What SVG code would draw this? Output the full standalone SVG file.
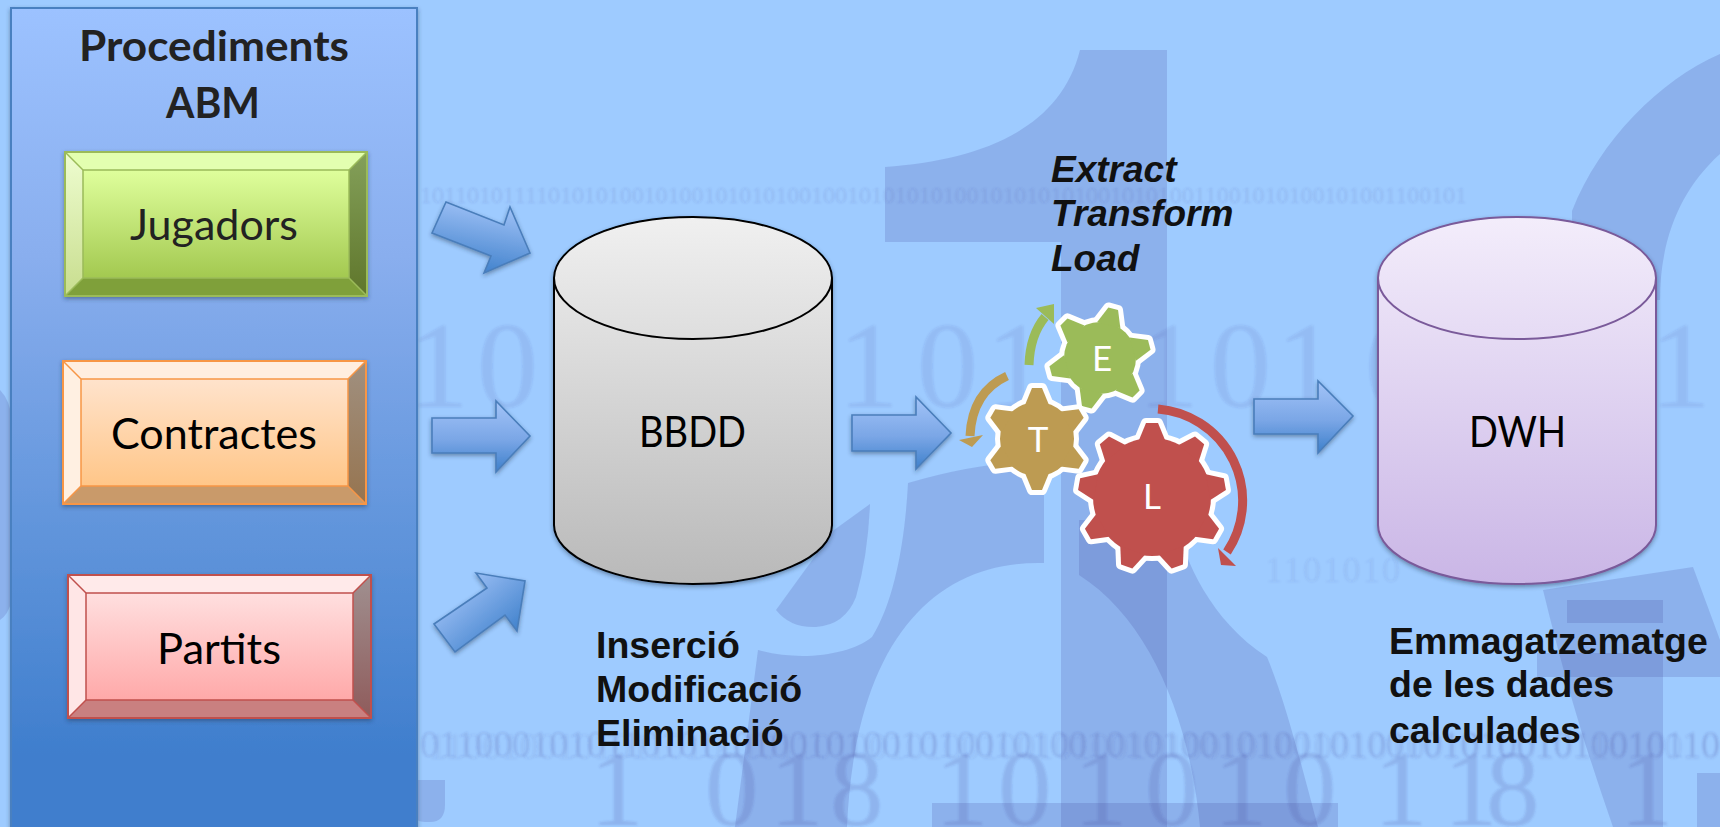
<svg xmlns="http://www.w3.org/2000/svg" width="1720" height="827" viewBox="0 0 1720 827">
<style>
.bgs{fill:#3c3c96;fill-opacity:.18}
.dig{fill:#3c3c96;font-family:"Liberation Serif",serif}
.cal{font-family:Lato,"Open Sans",sans-serif;font-size:42px;fill:#000}
.arial{font-family:"Liberation Sans",Arial,sans-serif;font-weight:bold;font-size:37.5px;fill:#111}
.ital{font-family:"Liberation Sans",Arial,sans-serif;font-weight:bold;font-style:italic;font-size:37px;fill:#111}
.gl{font-family:Lato,"Open Sans",sans-serif;font-size:35px;fill:#fff;text-anchor:middle}
.arr{stroke:#4a7ebb;stroke-width:1.6;stroke-linejoin:miter;filter:url(#sh)}
.bev{stroke-width:2;stroke-linejoin:miter}
.curve{fill:none;stroke-width:9}
</style>
<defs>
<filter id="sh" x="-15%" y="-15%" width="130%" height="135%"><feDropShadow dx="0" dy="2" stdDeviation="2" flood-color="#20304a" flood-opacity=".45"/></filter>
<filter id="soft" x="-2%" y="-30%" width="104%" height="160%"><feGaussianBlur stdDeviation=".8"/></filter>
<linearGradient id="gPanel" x1="0" y1="0" x2="0" y2="1"><stop offset="0" stop-color="#9cc2ff"/><stop offset=".3" stop-color="#89aeee"/><stop offset=".65" stop-color="#5e93da"/><stop offset=".9" stop-color="#3f7ecd"/><stop offset="1" stop-color="#3f7ecd"/></linearGradient>
<linearGradient id="gArrH" x1="0" y1="0" x2="0" y2="1"><stop offset="0" stop-color="#a3c4f8"/><stop offset=".55" stop-color="#7aa6e6"/><stop offset="1" stop-color="#3e80cb"/></linearGradient>
<linearGradient id="gArr1" x1=".62" y1="0" x2=".38" y2="1"><stop offset="0" stop-color="#a3c4f8"/><stop offset="1" stop-color="#3e80cb"/></linearGradient>
<linearGradient id="gArr3" x1="0" y1="0" x2="1" y2="1"><stop offset=".15" stop-color="#a3c4f8"/><stop offset=".85" stop-color="#3e80cb"/></linearGradient>
<linearGradient id="gBB" x1="0" y1="0" x2="0" y2="1"><stop offset="0" stop-color="#f0f0f0"/><stop offset="1" stop-color="#b9b9b9"/></linearGradient>
<linearGradient id="gDW" x1="0" y1="0" x2="0" y2="1"><stop offset="0" stop-color="#f3edfb"/><stop offset="1" stop-color="#cab6e6"/></linearGradient>
<linearGradient id="gJi" x1="0" y1="0" x2="0" y2="1"><stop offset="0" stop-color="#dfff9c"/><stop offset="1" stop-color="#a3c950"/></linearGradient>
<linearGradient id="gJl" x1="0" y1="0" x2="0" y2="1"><stop offset="0" stop-color="#eefdd0"/><stop offset="1" stop-color="#c8dd8e"/></linearGradient>
<linearGradient id="gJr" x1="0" y1="0" x2="0" y2="1"><stop offset="0" stop-color="#84a05a"/><stop offset="1" stop-color="#5f762b"/></linearGradient>
<linearGradient id="gCi" x1="0" y1="0" x2="0" y2="1"><stop offset="0" stop-color="#ffe3cc"/><stop offset="1" stop-color="#ffc688"/></linearGradient>
<linearGradient id="gCr" x1="0" y1="0" x2="0" y2="1"><stop offset="0" stop-color="#a09080"/><stop offset="1" stop-color="#96744f"/></linearGradient>
<linearGradient id="gPi" x1="0" y1="0" x2="0" y2="1"><stop offset="0" stop-color="#ffdfdf"/><stop offset="1" stop-color="#ffa9a9"/></linearGradient>
<linearGradient id="gPr" x1="0" y1="0" x2="0" y2="1"><stop offset="0" stop-color="#a09090"/><stop offset="1" stop-color="#8f5b5b"/></linearGradient>
<g id="toothT"><polygon points="-12,-34 -5,-51 5,-51 12,-34"/></g>
<g id="shapeT"><circle r="37"/><use href="#toothT"/><use href="#toothT" transform="rotate(60)"/><use href="#toothT" transform="rotate(120)"/><use href="#toothT" transform="rotate(180)"/><use href="#toothT" transform="rotate(240)"/><use href="#toothT" transform="rotate(300)"/></g>
<g id="shapeE"><circle r="36"/><use href="#toothT" transform="rotate(15)"/><use href="#toothT" transform="rotate(75)"/><use href="#toothT" transform="rotate(135)"/><use href="#toothT" transform="rotate(195)"/><use href="#toothT" transform="rotate(255)"/><use href="#toothT" transform="rotate(315)"/></g>
<g id="toothL"><polygon points="-13,-57 -6,-74 6,-74 13,-57"/></g>
<g id="shapeL"><circle r="59"/><use href="#toothL"/><use href="#toothL" transform="rotate(40)"/><use href="#toothL" transform="rotate(80)"/><use href="#toothL" transform="rotate(120)"/><use href="#toothL" transform="rotate(160)"/><use href="#toothL" transform="rotate(200)"/><use href="#toothL" transform="rotate(240)"/><use href="#toothL" transform="rotate(280)"/><use href="#toothL" transform="rotate(320)"/></g>
</defs>

<rect width="1720" height="827" fill="#9ecbff"/>
<g id="background">
<path class="bgs" d="M1080 50H1167V827H1061V242H885V167C980 160 1060 130 1080 50Z"/>
<path class="bgs" d="M908 483C960 468 1000 462 1044 460V563C935 560 855 640 847 827H735L758 650C800 662 850 655 872 637C895 600 905 540 908 483Z"/>
<path class="bgs" d="M1079 520H1175C1185 560 1210 620 1267 657C1285 700 1300 760 1318 827H1200C1190 720 1150 620 1079 575Z"/>
<path class="bgs" d="M870 504L834 530L776 610Q790 628 816 627Q845 625 856 597Q868 555 870 504Z"/>
<rect class="bgs" x="932" y="803" width="406" height="24"/>
<path class="bgs" d="M1720 54C1660 80 1600 140 1572 211V300H1660C1660 240 1680 190 1720 154Z"/>
<path class="bgs" d="M1543 590L1693 567L1720 640V677H1663V827H1613C1590 760 1570 700 1543 590Z"/>
<rect class="bgs" x="1567" y="600" width="96" height="23"/>
<rect class="bgs" x="1537" y="653" width="126" height="24"/>
<rect class="bgs" x="1697" y="773" width="23" height="54"/>
<path class="bgs" d="M418 780H445V805Q445 822 430 822Q418 822 418 820Z"/>
<path class="bgs" d="M0 390Q10 400 12 420V600Q8 615 0 620Z"/>
<g filter="url(#soft)">
<text class="dig" fill-opacity=".13" font-size="24" x="420" y="203" textLength="1047" lengthAdjust="spacing">1011010111101010100101001010101001001010101010010101010100101010011001010100101001100101</text>
<text class="dig" fill-opacity=".1" font-size="122" y="407" x="408 477 838 917 986 1138 1210 1276 1365 1650">1010110101</text>
<text class="dig" fill-opacity=".08" font-size="36" x="1265" y="582" textLength="135" lengthAdjust="spacing">1101010</text>
<text class="dig" fill-opacity=".15" font-size="38" x="420" y="757" textLength="1300" lengthAdjust="spacing">0110001010110101101001010010100101001010100101001010010101001010010110</text>
<text class="dig" fill-opacity=".08" font-size="38" x="428" y="759" textLength="1292" lengthAdjust="spacing">1100100101011010010110100101001001010010100101010010100101001011010010</text>
<text class="dig" fill-opacity=".16" font-size="107" y="825" x="590 705 770 830 935 998 1074 1145 1214 1283 1374 1444 1486 1620">10181010101181</text>
</g>
</g>

<g id="n-panel">
<rect x="11" y="8" width="406" height="830" fill="url(#gPanel)" stroke="#4a80c0" stroke-width="2" filter="url(#sh)"/>
<text class="cal" x="79" y="61" font-weight="bold" style="fill:#222" textLength="270" lengthAdjust="spacingAndGlyphs">Procediments</text>
<text class="cal" x="166" y="118" font-weight="bold" style="fill:#222" textLength="94" lengthAdjust="spacingAndGlyphs">ABM</text>
</g>

<g id="n-jugadors">
<rect x="65" y="152" width="302" height="144" fill="#7fa03a" stroke="#9bbb59" class="bev" filter="url(#sh)"/>
<polygon points="65,152 367,152 349,170 83,170" fill="#e3ffb0"/>
<polygon points="65,152 83,170 83,278 65,296" fill="url(#gJl)"/>
<polygon points="367,152 349,170 349,278 367,296" fill="url(#gJr)"/>
<polygon points="65,296 83,278 349,278 367,296" fill="#7fa03a"/>
<rect x="83" y="170" width="266" height="108" fill="url(#gJi)" stroke="#9bbb59" stroke-width="1.5"/>
<path d="M65 152L83 170M367 152L349 170M65 296L83 278M367 296L349 278" stroke="#9bbb59" stroke-width="1.5"/>
<rect x="65" y="152" width="302" height="144" fill="none" stroke="#9bbb59" class="bev"/>
<text class="cal" x="130" y="240" style="fill:#222" textLength="168" lengthAdjust="spacingAndGlyphs">Jugadors</text>
</g>

<g id="n-contractes">
<rect x="63" y="361" width="303" height="143" fill="#c99a6a" stroke="#f79646" class="bev" filter="url(#sh)"/>
<polygon points="63,361 366,361 348,379 81,379" fill="#ffeee0"/>
<polygon points="63,361 81,379 81,486 63,504" fill="#fff0e2"/>
<polygon points="366,361 348,379 348,486 366,504" fill="url(#gCr)"/>
<polygon points="63,504 81,486 348,486 366,504" fill="#c99a6a"/>
<rect x="81" y="379" width="267" height="107" fill="url(#gCi)" stroke="#f79646" stroke-width="1.5"/>
<path d="M63 361L81 379M366 361L348 379M63 504L81 486M366 504L348 486" stroke="#f79646" stroke-width="1.5"/>
<rect x="63" y="361" width="303" height="143" fill="none" stroke="#f79646" class="bev"/>
<text class="cal" x="111" y="449" textLength="206" lengthAdjust="spacingAndGlyphs">Contractes</text>
</g>

<g id="n-partits">
<rect x="68" y="575" width="303" height="143" fill="#c98080" stroke="#c0504d" class="bev" filter="url(#sh)"/>
<polygon points="68,575 371,575 353,593 86,593" fill="#ffeaea"/>
<polygon points="68,575 86,593 86,700 68,718" fill="#ffe6e6"/>
<polygon points="371,575 353,593 353,700 371,718" fill="url(#gPr)"/>
<polygon points="68,718 86,700 353,700 371,718" fill="#c98080"/>
<rect x="86" y="593" width="267" height="107" fill="url(#gPi)" stroke="#c0504d" stroke-width="1.5"/>
<path d="M68 575L86 593M371 575L353 593M68 718L86 700M371 718L353 700" stroke="#c0504d" stroke-width="1.5"/>
<rect x="68" y="575" width="303" height="143" fill="none" stroke="#c0504d" class="bev"/>
<text class="cal" x="157" y="664" textLength="124" lengthAdjust="spacingAndGlyphs">Partits</text>
</g>

<g id="n-bbdd">
<path d="M554 278V525A139 59 0 0 0 832 525V278A139 61 0 0 0 554 278Z" fill="url(#gBB)" stroke="#000" stroke-width="2" filter="url(#sh)"/>
<path d="M554 278A139 61 0 0 0 832 278" fill="none" stroke="#000" stroke-width="2"/>
<text class="cal" x="639" y="447" textLength="107" lengthAdjust="spacingAndGlyphs">BBDD</text>
<text class="arial" x="596" y="658">Inserció</text>
<text class="arial" x="596" y="702">Modificació</text>
<text class="arial" x="596" y="746">Eliminació</text>
</g>

<g id="n-dwh">
<path d="M1378 278V525A139 59 0 0 0 1656 525V278A139 61 0 0 0 1378 278Z" fill="url(#gDW)" stroke="#7a5a9a" stroke-width="2" filter="url(#sh)"/>
<path d="M1378 278A139 61 0 0 0 1656 278" fill="none" stroke="#7a5a9a" stroke-width="2"/>
<text class="cal" x="1469" y="447" textLength="97" lengthAdjust="spacingAndGlyphs">DWH</text>
<text class="arial" x="1389" y="654">Emmagatzematge</text>
<text class="arial" x="1389" y="697">de les dades</text>
<text class="arial" x="1389" y="743">calculades</text>
</g>

<g id="connectors">
<polygon class="arr" fill="url(#gArr1)" points="446,202 504,225 510,207 530,253 484,273 491,256 432,233"/>
<polygon class="arr" fill="url(#gArrH)" points="432,418 496,418 496,401 530,436 496,472 496,453 432,453"/>
<polygon class="arr" fill="url(#gArr3)" points="434,624 487,588 476,573 525,581 517,631 505,615 455,652"/>
<polygon class="arr" fill="url(#gArrH)" points="852,415 916,415 916,397 951,433 916,469 916,451 852,451"/>
<polygon class="arr" fill="url(#gArrH)" points="1254,399 1318,399 1318,381 1353,416 1318,453 1318,434 1254,434"/>
<path class="curve" stroke="#9bbb59" d="M1029 365Q1030 335 1045 317"/>
<polygon fill="#9bbb59" points="1054,304 1036,308 1054,324"/>
<path class="curve" stroke="#bd9b52" d="M1007 376Q972 392 970 436"/>
<polygon fill="#bd9b52" points="959,440 983,435 972,447"/>
<path class="curve" stroke="#c0504d" d="M1158 409A92 92 0 0 1 1227 552"/>
<polygon fill="#c0504d" points="1218,548 1236,566 1221,565"/>
</g>

<g id="n-etl">
<text class="ital" x="1051" y="182">Extract</text>
<text class="ital" x="1051" y="226">Transform</text>
<text class="ital" x="1051" y="271">Load</text>
</g>

<g id="n-gear-e" transform="translate(1100 358)">
<use href="#shapeE" fill="#fff" stroke="#fff" stroke-width="10" stroke-linejoin="round"/>
<use href="#shapeE" fill="#9bbb59"/>
<text class="gl" x="2" y="13">E</text>
</g>
<g id="n-gear-t" transform="translate(1037 439)">
<use href="#shapeT" fill="#fff" stroke="#fff" stroke-width="10" stroke-linejoin="round"/>
<use href="#shapeT" fill="#bd9b52"/>
<text class="gl" x="1" y="13">T</text>
</g>
<g id="n-gear-l" transform="translate(1152 497)">
<use href="#shapeL" fill="#fff" stroke="#fff" stroke-width="10" stroke-linejoin="round"/>
<use href="#shapeL" fill="#c0504d"/>
<text class="gl" x="0" y="12">L</text>
</g>
</svg>
